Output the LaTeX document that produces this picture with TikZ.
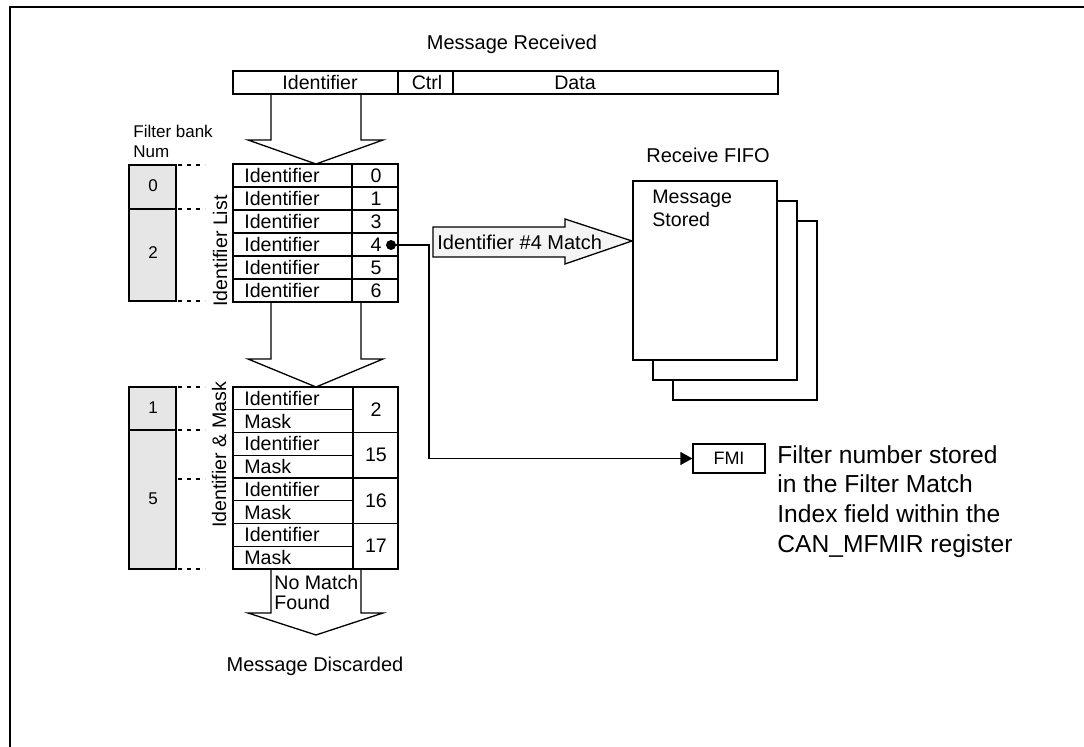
\documentclass[tikz,border=0pt]{standalone}
\usepackage{fontspec}
\setmainfont{Liberation Sans}
\usepackage{xcolor}
\usepackage{tikz}
\usetikzlibrary{arrows.meta, positioning}
\definecolor{bankgray}{HTML}{E6E6E6}
\definecolor{matchgray}{HTML}{F4F4F4}

\begin{document}
\begin{tikzpicture}[x=0.5pt, y=-0.5pt,
        txt/.style={font=\fontsize{9.8}{10}\selectfont, inner sep=0pt},
        ttl/.style={font=\fontsize{10}{11}\selectfont, inner sep=0pt},
        smalltxt/.style={font=\fontsize{8.5}{10}\selectfont, inner sep=0pt},
        cell/.style={line width=0.65pt},
        bank/.style={draw, fill=bankgray, line width=0.65pt},
        guide/.style={line width=0.65pt, dash pattern=on 2pt off 2.5pt},
        bigarrow/.style={draw, fill=white, line width=0.65pt}]
        \useasboundingbox (0,0) rectangle (1084,747);
        % Cadre
        \draw[line width=1pt] (10,747) -- (10,7) -- (1084,7);
        % Grosses fleches
        \draw[bigarrow] (271,94) -- (271,140) -- (248,140) -- (316,164) -- (383,140) -- (361,140) -- (361,94);
        \draw[bigarrow] (271,302) -- (271,359) -- (248,359) -- (316,387) -- (383,359) -- (361,359) -- (361,302);
        \draw[bigarrow] (271,569) -- (271,613) -- (248,613) -- (316,635) -- (383,613) -- (361,613) -- (361,569);
        % Trame recue
        \node[ttl, anchor=base] (msgrec) at (512,50) {Message Received};
        \draw[cell] (233,71) rectangle (778,94);
        \draw[cell] (398,71) -- (398,94);
        \draw[cell] (453,71) -- (453,94);
        \node[txt, anchor=base] (fid) at (320,90) {Identifier};
        \node[txt, anchor=base] (fctrl) at (427,90) {Ctrl};
        \node[txt, anchor=base] (fdata) at (575,90) {Data};
        % Bancs de filtres
        \node[smalltxt, anchor=north west, align=left] (fbank) at (133,125) {Filter bank\\Num};
        \draw[bank] (129,165) rectangle (176,301);
        \draw[line width=1pt] (129,209) -- (176,209);
        \draw[bank] (129,387) rectangle (176,569);
        \draw[line width=1pt] (129,430) -- (176,430);
        \node[smalltxt] (b0) at (153,186) {0};
        \node[smalltxt] (b2) at (153,253) {2};
        \node[smalltxt] (b1) at (153,408) {1};
        \node[smalltxt] (b5) at (153,499) {5};
        \draw[guide] (178,165) -- (205,165);
        \draw[guide] (178,209) -- (205,209);
        \draw[guide] (178,301) -- (205,301);
        \draw[guide] (178,387) -- (205,387);
        \draw[guide] (178,430) -- (205,430);
        \draw[guide] (178,479) -- (205,479);
        \draw[guide] (178,569) -- (205,569);
        % Liste d'identifiants
        \node[txt, rotate=90] (listlbl) at (220,251) {Identifier List};
        \draw[cell] (233,164) rectangle (398,302);
        \draw[cell] (352,164) -- (352,302);
        \draw[cell] (233,187) -- (398,187);
        \draw[cell] (233,210) -- (398,210);
        \draw[cell] (233,233) -- (398,233);
        \draw[cell] (233,256) -- (398,256);
        \draw[cell] (233,279) -- (398,279);
        \node[txt, anchor=west] (id0) at (244,175.5) {Identifier};
        \node[txt, anchor=west] (id1) at (244,198.5) {Identifier};
        \node[txt, anchor=west] (id3) at (244,221.5) {Identifier};
        \node[txt, anchor=west] (id4) at (244,244.5) {Identifier};
        \node[txt, anchor=west] (id5) at (244,267.5) {Identifier};
        \node[txt, anchor=west] (id6) at (244,290.5) {Identifier};
        \node[txt] (n0) at (376,175.5) {0};
        \node[txt] (n1) at (376,198.5) {1};
        \node[txt] (n3) at (376,221.5) {3};
        \node[txt] (n4) at (376,244.5) {4};
        \node[txt] (n5) at (376,267.5) {5};
        \node[txt] (n6) at (376,290.5) {6};
        % Identifiant et masque
        \node[txt, rotate=90] (masklbl) at (219,455) {Identifier \& Mask};
        \draw[cell] (233,387) rectangle (398,569);
        \draw[cell] (353,387) -- (353,569);
        \draw[cell] (233,432.5) -- (398,432.5);
        \draw[cell] (233,478) -- (398,478);
        \draw[cell] (233,523.5) -- (398,523.5);
        \draw[cell] (233,409.75) -- (353,409.75);
        \draw[cell] (233,455.25) -- (353,455.25);
        \draw[cell] (233,500.75) -- (353,500.75);
        \draw[cell] (233,546.25) -- (353,546.25);
        \node[txt, anchor=west] (mid2) at (244,398.4) {Identifier};
        \node[txt, anchor=west] (mmk2) at (244,421.1) {Mask};
        \node[txt, anchor=west] (mid15) at (244,443.9) {Identifier};
        \node[txt, anchor=west] (mmk15) at (244,466.6) {Mask};
        \node[txt, anchor=west] (mid16) at (244,489.4) {Identifier};
        \node[txt, anchor=west] (mmk16) at (244,512.1) {Mask};
        \node[txt, anchor=west] (mid17) at (244,534.9) {Identifier};
        \node[txt, anchor=west] (mmk17) at (244,557.6) {Mask};
        \node[txt] (m2) at (376,409.75) {2};
        \node[txt] (m15) at (376,455.25) {15};
        \node[txt] (m16) at (376,500.75) {16};
        \node[txt] (m17) at (376,546.25) {17};
        % Message rejete
        \node[txt, anchor=north west, align=left] (nomatch) at (274,575) {No Match\\Found};
        \node[ttl, anchor=base] (discard) at (315,672) {Message Discarded};
        % FIFO de reception
        \node[ttl] (fifolbl) at (708,155) {Receive FIFO};
        \draw[cell, fill=white] (673,221) rectangle (817,400);
        \draw[cell, fill=white] (653,201) rectangle (797,380);
        \draw[cell, fill=white] (633,181) rectangle (777,360);
        \node[anchor=north west, align=left, inner sep=0pt, font=\fontsize{9.8}{11.5}\selectfont] (stored) at (652,190) {Message\\Stored};
        \draw[cell, fill=matchgray] (433,227) -- (565,227) -- (565,219) -- (632,241) -- (565,264) -- (565,257) -- (433,257) -- cycle;
        \node[ttl, anchor=west] (match) at (437,242) {Identifier \#4 Match};
        % Indice du filtre
        \node[draw, line width=0.65pt, font=\fontsize{9}{10}\selectfont, inner sep=0pt, minimum width=36pt, minimum height=14.5pt] (fmi) at (729,458.5) {FMI};
        \node[anchor=north west, align=left, inner sep=0pt, font=\fontsize{12.3}{14.85}\selectfont] (fmidesc) at (777,445) {Filter number stored\\in the Filter Match\\Index field within the\\CAN\_MFMIR register};
        \coordinate (dot4) at (391,245);
        \coordinate (bend) at (429,458.5);
        \fill (dot4) circle (2.5pt);
        \draw[cell, -{Triangle[length=6pt, width=6.5pt]}] (dot4) -| (bend) -- (fmi.west);
    \end{tikzpicture}
\end{document}
